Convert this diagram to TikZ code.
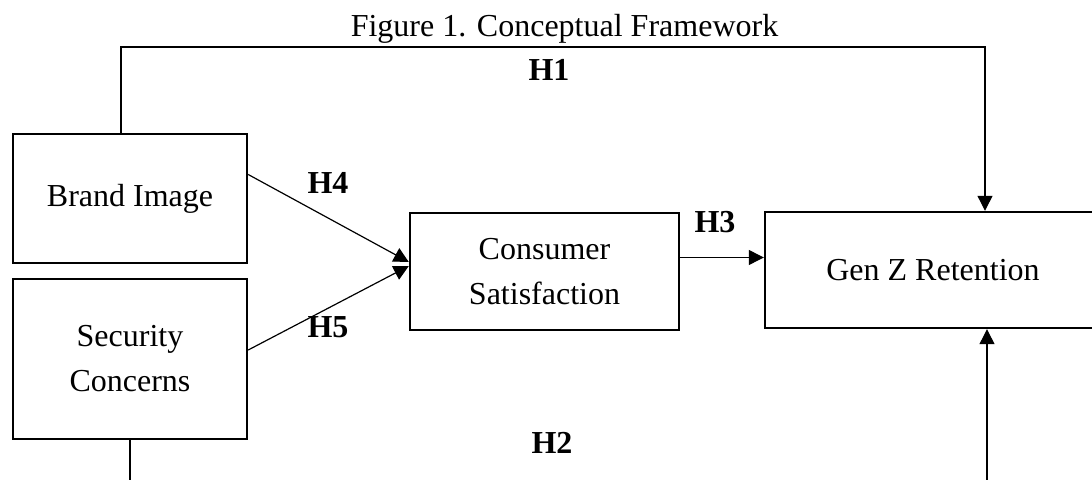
\documentclass[tikz,border=0pt]{standalone}
\usepackage{fontspec}
\setmainfont{Liberation Serif}
\usetikzlibrary{arrows.meta}
\tikzset{
    x=0.5pt,
    y=-0.5pt,
    box/.style={
        draw,
        rectangle,
        line width=1.2pt,
        inner sep=0mm,
        align=center,
        font=\fontsize{16}{22.5}\selectfont
    },
    link/.style={
        line width=0.6pt,
        -{Triangle[length=7.5pt,width=7.5pt]}
    },
    hyp/.style={
        font=\fontsize{16}{19}\selectfont\bfseries
    }
}

\begin{document}
\begin{tikzpicture}
        \useasboundingbox (0,0) rectangle (1092,480);
        \clip (0,0) rectangle (1092,480);
        \node[anchor=base,font=\fontsize{16}{19}\selectfont] (title) at (564.5,37) {Figure 1. Conceptual Framework};
        \node[box,minimum width=117pt,minimum height=64.5pt] (brand) at (130,198.5) {Brand Image};
        \node[box,minimum width=117pt,minimum height=80pt] (security) at (130,359) {Security\\Concerns};
        \node[box,minimum width=134.5pt,minimum height=58.5pt] (satisf) at (544.5,271.5) {Consumer\\Satisfaction};
        \node[box,minimum width=168pt,minimum height=58pt] (retention) at (933,270) {Gen Z Retention};
        \coordinate (h1left) at (121,47);
        \coordinate (h1right) at (985,47);
        \coordinate (h2left) at (130,500);
        \coordinate (h2right) at (987,500);
        % paths between the boxes
        \draw[link] (h1left |- brand.north) -- (h1left) -- (h1right) -- (h1right |- retention.north);
        \draw[link] (security.south) -- (h2left) -- (h2right) -- (h2right |- retention.south);
        \draw[link] ([yshift=7pt]satisf.east) -- ([yshift=7pt]satisf.east -| retention.west);
        \draw[link] ([yshift=12pt]brand.east) -- ([yshift=4.75pt]satisf.west);
        \draw[link] ([yshift=4.5pt]security.east) -- ([yshift=2.75pt]satisf.west);
        \node[hyp] (h1) at (549,70) {H1};
        \node[hyp] (h2) at (552,443) {H2};
        \node[hyp] (h3) at (715,222) {H3};
        \node[hyp] (h4) at (328,183) {H4};
        \node[hyp] (h5) at (328,327) {H5};
    \end{tikzpicture}
\end{document}
